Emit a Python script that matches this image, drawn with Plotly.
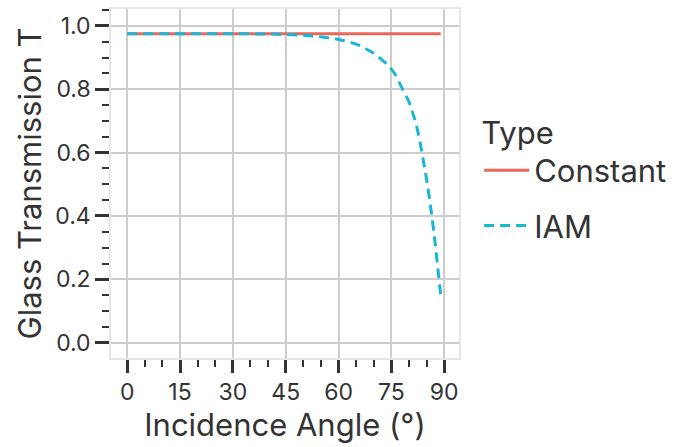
import plotly.graph_objects as go

# Data
angles = [0, 10, 20, 30, 40, 45, 50, 55, 60, 65, 68, 70, 72, 74, 76, 78, 80, 81, 82, 83, 84, 85, 86, 87, 88, 89]
iam_T = [0.975, 0.975, 0.975, 0.975, 0.974, 0.973, 0.970, 0.965, 0.957, 0.942, 0.926, 0.913, 0.896, 0.876, 0.848, 0.804, 0.760, 0.727, 0.690, 0.640, 0.580, 0.515, 0.440, 0.355, 0.255, 0.150]
const_angles = [0, 89]
const_T = [0.975, 0.975]

legend_title = "Type"
series_names = ["Constant", "IAM"]
x_title = "Incidence Angle (°)"
y_title = "Glass Transmission T"
x_ticks = [0, 15, 30, 45, 60, 75, 90]
y_ticks = [0.0, 0.2, 0.4, 0.6, 0.8, 1.0]

FONT = "Inter"
TXT = "#333333"

fig = go.Figure()
fig.add_trace(go.Scatter(x=const_angles, y=const_T, mode="lines", name=series_names[0],
                         legendgroup="c",
                         line=dict(color="#E9685A", width=3)))
fig.add_trace(go.Scatter(x=angles, y=iam_T, mode="lines", name=series_names[1],
                         legendgroup="i",
                         line=dict(color="#18B6D7", width=3, dash="10px,6px", shape="spline")))

axis_common = dict(
    showgrid=True, gridcolor="#CDCDCD", gridwidth=2,
    showline=True, linecolor="#E6E6E6", linewidth=1.5, mirror=True,
    zeroline=False,
    ticks="outside", tickcolor=TXT, tickwidth=3,
    tickfont=dict(family=FONT, size=23, color=TXT),
)

fig.update_xaxes(**axis_common, range=[-4.6, 94.2], tickvals=x_ticks, ticklen=13,
                 ticktext=[str(v) for v in x_ticks],
                 minor=dict(dtick=5, tick0=0, ticks="outside", ticklen=7, tickwidth=2,
                            tickcolor=TXT, showgrid=False),
                 title=dict(text=x_title, font=dict(family=FONT, size=31, color=TXT), standoff=6))
fig.update_yaxes(**axis_common, range=[-0.048, 1.053], tickvals=y_ticks, ticklen=14,
                 ticktext=[f"{v:.1f}" for v in y_ticks],
                 minor=dict(dtick=0.05, tick0=0, ticks="outside", ticklen=7, tickwidth=2,
                            tickcolor=TXT, showgrid=False),
                 title=dict(text=y_title, font=dict(family=FONT, size=31, color=TXT), standoff=4))

fig.update_layout(
    width=684, height=447,
    margin=dict(l=111, r=225, t=7, b=89),
    plot_bgcolor="white", paper_bgcolor="white",
    showlegend=True,
    legend=dict(x=1.058, y=0.73, xanchor="left", yanchor="top",
                title=dict(text=legend_title, font=dict(family=FONT, size=31, color=TXT)),
                font=dict(family=FONT, size=31, color=TXT),
                bgcolor="rgba(0,0,0,0)", tracegroupgap=12, itemwidth=45),
)

fig.write_html("out.html")
